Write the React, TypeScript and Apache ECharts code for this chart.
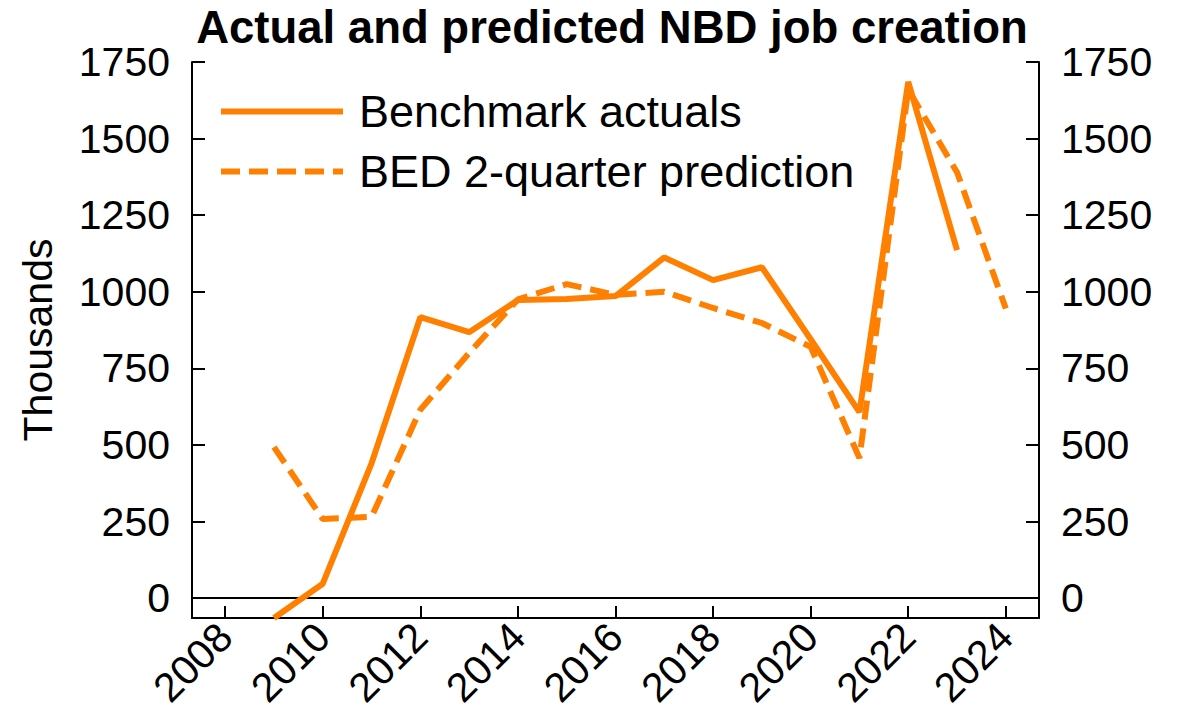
import React, { useEffect, useRef } from "react";
import * as echarts from "echarts";

const TITLE = "Actual and predicted NBD job creation";
const SERIES_ACTUAL = "Benchmark actuals";
const SERIES_PRED = "BED 2-quarter prediction";
const Y_NAME = "Thousands";

const actualYears = [2009, 2010, 2011, 2012, 2013, 2014, 2015, 2016, 2017, 2018, 2019, 2020, 2021, 2022, 2023];
const actualValues = [-65, 47, 440, 917, 868, 973, 976, 986, 1112, 1038, 1080, 845, 607, 1685, 1136];

const predYears = [2009, 2010, 2011, 2012, 2013, 2014, 2015, 2016, 2017, 2018, 2019, 2020, 2021, 2022, 2023, 2024];
const predValues = [493, 258, 265, 615, 800, 975, 1025, 990, 1000, 947, 898, 820, 457, 1660, 1390, 945];

const xTicks = [2008, 2010, 2012, 2014, 2016, 2018, 2020, 2022, 2024];
const yTicks = [0, 250, 500, 750, 1000, 1250, 1500, 1750];

const X_MIN = 2007.32;
const X_MAX = 2024.68;
const Y_MIN = -65;
const Y_MAX = 1750;

const FONT = "'Liberation Sans', Arial, sans-serif";
const ORANGE = "#FF8000";

export default function App() {
  const ref = useRef<HTMLDivElement>(null);
  useEffect(() => {
    if (!ref.current) return;
    const chart = echarts.init(ref.current, undefined, { renderer: "svg" });
    const yAxisCommon = (position: "left" | "right") => ({
      type: "value",
      position,
      min: Y_MIN,
      max: Y_MAX,
      axisLine: { show: true, onZero: false, lineStyle: { color: "#000", width: 2 } },
      axisTick: { show: true, inside: true, length: 13, lineStyle: { color: "#000", width: 2 }, customValues: yTicks },
      axisLabel: {
        show: true,
        customValues: yTicks,
        color: "#000",
        fontSize: 41,
        fontFamily: FONT,
        margin: 22,
        formatter: (v: number) => String(v),
      },
      splitLine: { show: false },
    });
    chart.setOption({
      animation: false,
      backgroundColor: "#fff",
      graphic: [
        {
          type: "text",
          x: 612,
          y: 27,
          style: {
            text: TITLE,
            align: "center",
            verticalAlign: "middle",
            fontSize: 45.5,
            fontWeight: "bold",
            fontFamily: FONT,
            fill: "#000",
          },
        },
      ],
      grid: { left: 192, right: 144, top: 62, bottom: 104, containLabel: false },
      legend: {
        orient: "vertical",
        left: 218,
        top: 89,
        padding: 0,
        itemWidth: 122,
        itemHeight: 20,
        itemGap: 15,
        lineStyle: { width: 6 },
        itemStyle: { opacity: 0 },
        textStyle: { fontSize: 45, lineHeight: 43, fontFamily: FONT, color: "#000", padding: [0, 0, 0, 11] },
        data: [SERIES_ACTUAL, SERIES_PRED],
      },
      xAxis: {
        type: "value",
        min: X_MIN,
        max: X_MAX,
        axisLine: { show: true, onZero: false, lineStyle: { color: "#000", width: 2 } },
        axisTick: { show: true, inside: true, length: 12, lineStyle: { color: "#000", width: 2 }, customValues: xTicks },
        axisLabel: {
          show: true,
          customValues: xTicks,
          rotate: 45,
          color: "#000",
          fontSize: 41,
          fontFamily: FONT,
          margin: 12,
          formatter: (v: number) => String(v),
        },
        splitLine: { show: false },
      },
      yAxis: [
        yAxisCommon("left"),
        yAxisCommon("right"),
      ].map((a, i) =>
        i === 0
          ? {
              ...a,
              name: Y_NAME,
              nameLocation: "middle",
              nameGap: 134,
              nameTextStyle: { fontSize: 41, fontFamily: FONT, color: "#000" },
            }
          : a
      ),
      series: [
        {
          name: SERIES_ACTUAL,
          type: "line",
          yAxisIndex: 0,
          z: 3,
          showSymbol: false,
          symbol: "none",
          data: actualYears.map((y, i) => [y, actualValues[i]]),
          lineStyle: { color: ORANGE, width: 6, type: "solid", cap: "butt" },
          itemStyle: { color: ORANGE },
          markLine: {
            silent: true,
            z: 1,
            symbol: ["none", "none"],
            label: { show: false },
            lineStyle: { color: "#000", width: 2, type: "solid" },
            data: [{ yAxis: 0 }],
          },
        },
        {
          name: SERIES_PRED,
          type: "line",
          yAxisIndex: 0,
          z: 4,
          showSymbol: false,
          symbol: "none",
          data: predYears.map((y, i) => [y, predValues[i]]),
          lineStyle: { color: ORANGE, width: 6, type: [19, 9], cap: "butt" },
          itemStyle: { color: ORANGE },
        },
      ],
    });
    return () => chart.dispose();
  }, []);
  return (
    <div
      ref={ref}
      style={{ position: "fixed", left: 0, top: 0, width: 1183, height: 722, background: "#fff" }}
    />
  );
}
